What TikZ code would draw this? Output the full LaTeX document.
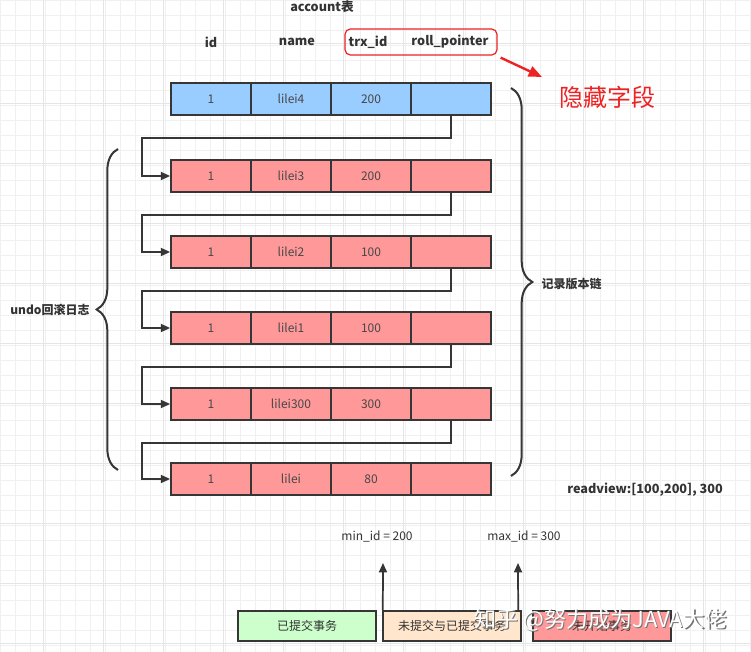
\documentclass[tikz,border=0pt]{standalone}
\usepackage{fontspec}
\setmainfont{Noto Sans CJK SC}
\usetikzlibrary{arrows.meta,decorations.pathreplacing,calc}
\definecolor{linec}{HTML}{363636}
\definecolor{txtc}{HTML}{333333}
\definecolor{bluef}{HTML}{99CCFF}
\definecolor{redf}{HTML}{FF9999}
\definecolor{greenf}{HTML}{CCFFCC}
\definecolor{peachf}{HTML}{FFE6CC}
\definecolor{hred}{HTML}{EE2222}
\begin{document}
\begin{tikzpicture}[x=0.75pt,y=-0.75pt,
  cell/.style={draw=linec,line width=1.3pt,minimum width=60pt,minimum height=24pt,inner sep=0pt,font=\fontsize{9}{10}\selectfont,text=txtc!90},
  bcell/.style={cell,fill=bluef},
  rcell/.style={cell,fill=redf},
  hdr/.style={font=\bfseries\fontsize{9.5}{10}\selectfont,text=txtc},
  plain/.style={font=\fontsize{9}{10}\selectfont,text=txtc},
  link/.style={draw=linec,line width=1.3pt,-{Triangle[length=7pt,width=6pt]}},
  bbox/.style={draw=linec,line width=1.3pt,minimum width=104pt,minimum height=23pt,inner sep=0pt,font=\fontsize{9}{10}\selectfont,text=txtc}]
% background and grid
\fill[white] (0,0) rectangle (751,652);
\useasboundingbox (0,0) rectangle (751,652);
\draw[black!6,line width=0.4pt] (0,0) grid[step=11.25pt] (751,652);
\foreach \gx in {43,103,...,751} \draw[black!10,line width=0.5pt] (\gx,0) -- (\gx,652);
\foreach \gy in {43,103,...,652} \draw[black!10,line width=0.5pt] (0,\gy) -- (751,\gy);

% headers
\node[hdr] (title) at (322,7) {account表};
\node[hdr] (hid) at (211,42) {id};
\node[hdr] (hname) at (297,42) {name};
\node[hdr] (htrx) at (368,42) {trx\_id};
\node[hdr] (hroll) at (450,42) {roll\_pointer};
\node[draw=hred,line width=0.9pt,rounded corners=4pt,minimum width=114pt,minimum height=19.5pt] (hidden) at (421,42) {};
\node[text=hred,font=\fontsize{18}{20}\selectfont] (hlabel) at (607,97) {隐藏字段};
\coordinate (ra) at (542,77);
\draw[hred,line width=1.8pt,-{Triangle[length=10pt,width=8pt]}] (hidden.south east) ++(3,2) -- (ra);

% rows
\foreach \r/\y/\st/\nm/\tx in {1/99/bcell/lilei4/200, 2/176/rcell/lilei3/200, 3/252/rcell/lilei2/100, 4/328/rcell/lilei1/100, 5/404/rcell/lilei300/300, 6/479/rcell/lilei/80}{
  \node[\st] (r\r c1) at (211,\y) {1};
  \node[\st] (r\r c2) at (291,\y) {\nm};
  \node[\st] (r\r c3) at (371,\y) {\tx};
  \node[\st] (r\r c4) at (451,\y) {};
}
% chain links
\foreach \a/\b in {1/2,2/3,3/4,4/5,5/6}{
  \coordinate (k\b) at ($(r\b c1.west)+(-28,0)$);
  \draw[link] (r\a c4.south) -- ++(0,22) -| (k\b) -- (r\b c1.west);
}

% braces
\coordinate (rb1) at (511,88);
\coordinate (rb2) at (511,476);
\draw[linec,line width=1.5pt,decorate,decoration={brace,amplitude=16pt}] (rb1) -- (rb2);
\node[plain,font=\bfseries\fontsize{9}{10}\selectfont,anchor=west] (chain) at (537,284) {记录版本链};
\coordinate (lb1) at (118,470);
\coordinate (lb2) at (118,149);
\draw[linec,line width=1.5pt,decorate,decoration={brace,amplitude=16pt}] (lb1) -- (lb2);
\node[plain,font=\bfseries\fontsize{9}{10}\selectfont] (undo) at (50,310) {undo回滚日志};

\node[plain,font=\bfseries\fontsize{9.5}{10}\selectfont] (rv) at (645,490) {readview:[100,200], 300};

% bottom
\node[plain] (minid) at (377,537) {min\_id = 200};
\node[plain] (maxid) at (524,537) {max\_id = 300};
\node[bbox,fill=greenf] (g) at (307,626) {已提交事务};
\node[bbox,fill=peachf] (p) at (452,626) {未提交与已提交事务};
\node[bbox,fill=redf] (rr) at (602,626) {未开始事务};
\coordinate (a1) at (383,563);
\coordinate (a2) at (518,563);
\draw[link] (p.north west) ++(1,0) -- (a1);
\draw[link] (p.north east) ++(-4,0) -- (a2);

% watermark
\node[text=black!55,font=\fontsize{16.5}{18}\selectfont,anchor=west] (wm0) at (471.2,621.2) {知乎 @努力成为JAVA大佬};
\node[text=white,font=\fontsize{16.5}{18}\selectfont,anchor=west] (wm) at (470,620) {知乎 @努力成为JAVA大佬};
\end{tikzpicture}
\end{document}
